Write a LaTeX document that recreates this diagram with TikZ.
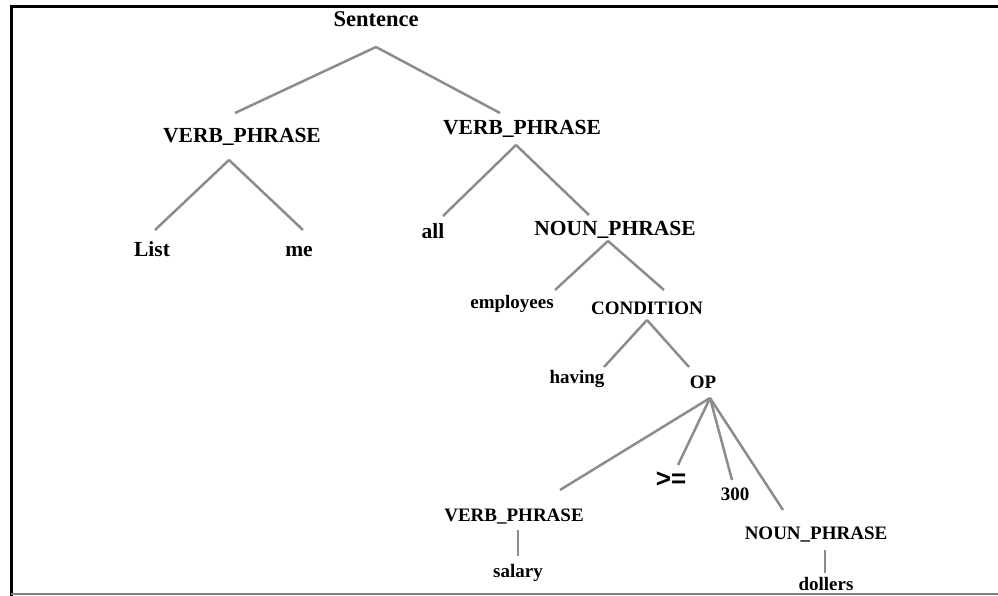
\documentclass[tikz,border=0pt]{standalone}
\usepackage{fontspec}
\setmainfont{Liberation Serif}
\newfontfamily\opfont{Liberation Sans}
\usepackage{tikz}

\begin{document}
\begin{tikzpicture}[x=1pt,y=-1pt,
  lbl/.style={anchor=base,inner sep=0pt,font=\fontsize{21.5}{24}\selectfont\bfseries},
  sub/.style={anchor=base,inner sep=0pt,font=\fontsize{19}{22}\selectfont\bfseries},
  edge/.style={draw=black!45,line width=2.5pt},
  frame/.style={line width=3pt}]
  \useasboundingbox (0,0) rectangle (998,596);
  % frame of the figure
  \draw[frame] (998,7) -- (11,7) -- (11,596);
  \draw[black!50,line width=1.2pt] (11,594) -- (998,594);
  % upper part of the tree
  \node[lbl,font=\fontsize{22.5}{25}\selectfont\bfseries] (sent) at (376,27) {Sentence};
  \node[lbl] (vp1) at (242,143) {VERB\_PHRASE};
  \node[lbl] (vp2) at (522,135) {VERB\_PHRASE};
  \node[lbl] (list) at (152,256) {List};
  \node[lbl] (me) at (299,256) {me};
  \node[lbl] (all) at (433,238) {all};
  \node[lbl] (np1) at (615,235) {NOUN\_PHRASE};
  % lower part of the tree
  \node[sub] (emp) at (512,308) {employees};
  \node[sub] (cond) at (647,314) {CONDITION};
  \node[sub] (having) at (577,383) {having};
  \node[sub] (op) at (703,388) {OP};
  \node[anchor=base,inner sep=0pt,font=\opfont\fontsize{26}{28}\selectfont\bfseries] (ge) at (671,487) {>=};
  \node[sub] (num) at (735,500) {300};
  \node[sub] (vp3) at (514,521) {VERB\_PHRASE};
  \node[sub] (np2) at (816,539) {NOUN\_PHRASE};
  \node[sub] (sal) at (518,577) {salary};
  \node[sub] (dol) at (826,590) {dollers};
  % branches
  \draw[edge] ([shift={(0,20)}]sent.base) -- ([shift={(-7,-30)}]vp1.base);
  \draw[edge] ([shift={(0,20)}]sent.base) -- ([shift={(-22,-22)}]vp2.base);
  \draw[edge] ([shift={(-13,17)}]vp1.base) -- ([shift={(3,-26)}]list.base);
  \draw[edge] ([shift={(-13,17)}]vp1.base) -- ([shift={(4,-26)}]me.base);
  \draw[edge] ([shift={(-6,10)}]vp2.base) -- ([shift={(10,-22)}]all.base);
  \draw[edge] ([shift={(-6,10)}]vp2.base) -- ([shift={(-26,-20)}]np1.base);
  \draw[edge] ([shift={(-7,6)}]np1.base) -- ([shift={(43,-18)}]emp.base);
  \draw[edge] ([shift={(-7,6)}]np1.base) -- ([shift={(17,-24)}]cond.base);
  \draw[edge] ([shift={(0,6)}]cond.base) -- ([shift={(27,-16)}]having.base);
  \draw[edge] ([shift={(0,6)}]cond.base) -- ([shift={(-14,-21)}]op.base);
  \draw[edge] ([shift={(7,10)}]op.base) -- ([shift={(46,-31)}]vp3.base);
  \draw[edge] ([shift={(7,10)}]op.base) -- ([shift={(7,-22)}]ge.base);
  \draw[edge] ([shift={(7,10)}]op.base) -- ([shift={(-3,-20)}]num.base);
  \draw[edge] ([shift={(7,10)}]op.base) -- ([shift={(-33,-29)}]np2.base);
  \draw[edge] ([shift={(4,9)}]vp3.base) -- ([shift={(0,-21)}]sal.base);
  \draw[edge] ([shift={(9,11)}]np2.base) -- ([shift={(-1,-17)}]dol.base);
\end{tikzpicture}
\end{document}
